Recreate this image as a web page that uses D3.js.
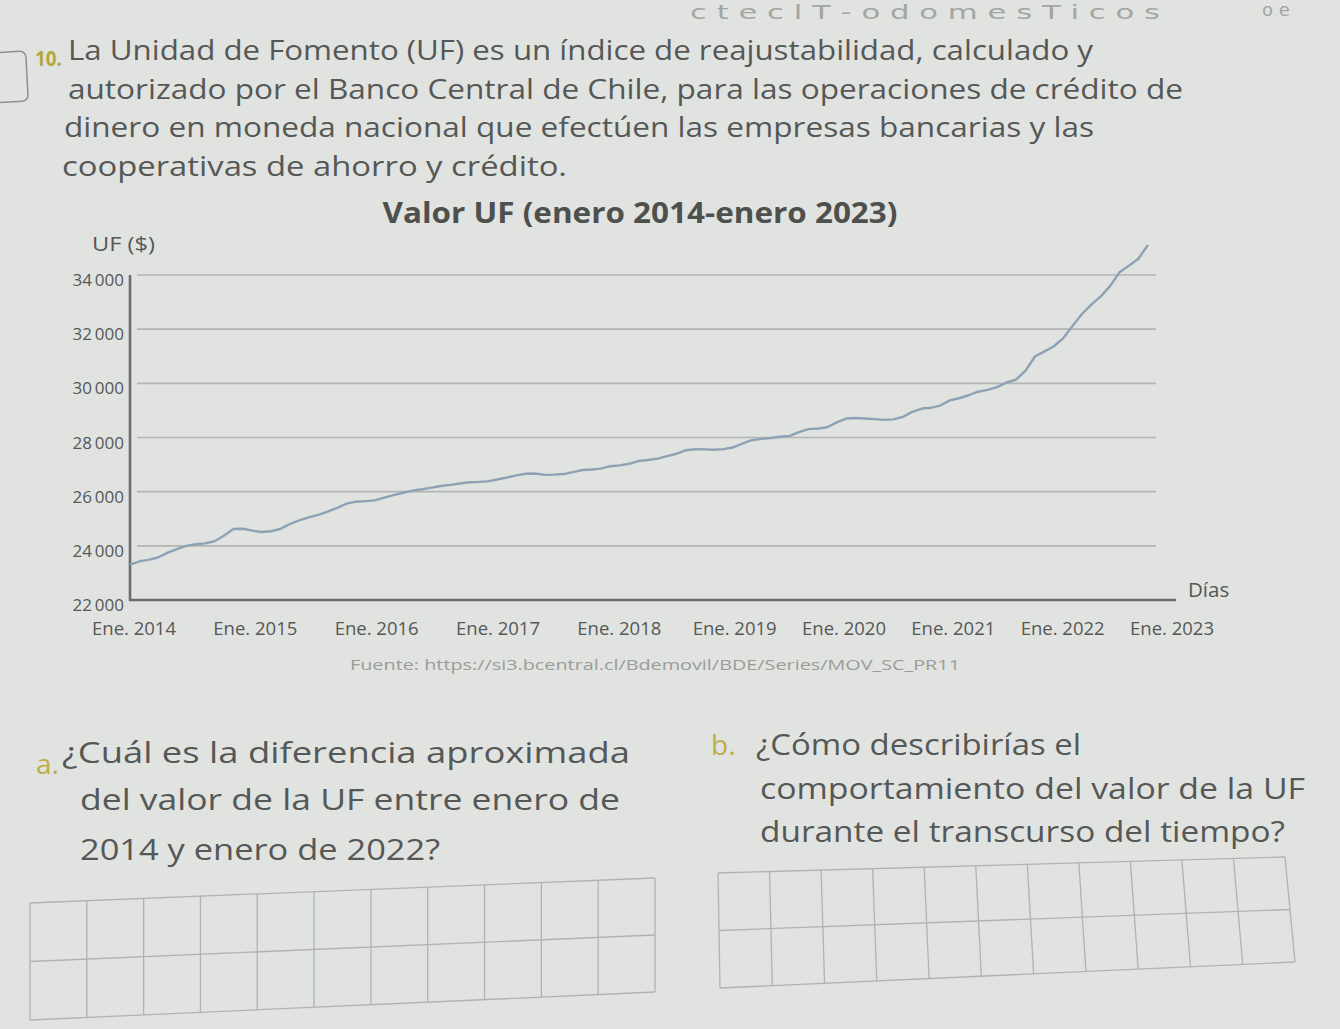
<!DOCTYPE html>
<html>
<head>
<meta charset="utf-8">
<script src="https://cdn.jsdelivr.net/npm/d3@7"></script>
<style>
  html, body { margin: 0; padding: 0; background: #e1e3e0; }
  svg { display: block; }
</style>
</head>
<body>
<svg id="page" width="1340" height="1029"></svg>
<script>
// ---------------- DATA ----------------
const years = [2014, 2015, 2016, 2017, 2018, 2019, 2020, 2021, 2022, 2023];
// Valor UF mensual (aprox.), enero a diciembre de cada año
const uf2014 = [23310, 23430, 23480, 23570, 23740, 23880, 24000, 24060, 24090, 24170, 24380, 24620];
const uf2015 = [24630, 24560, 24510, 24540, 24620, 24800, 24940, 25050, 25140, 25260, 25400, 25560];
const uf2016 = [25630, 25650, 25680, 25780, 25870, 25960, 26040, 26090, 26150, 26210, 26250, 26300];
const uf2017 = [26350, 26360, 26380, 26450, 26520, 26600, 26660, 26670, 26620, 26630, 26650, 26720];
const uf2018 = [26800, 26820, 26850, 26940, 26970, 27030, 27130, 27170, 27220, 27310, 27400, 27530];
const uf2019 = [27570, 27560, 27550, 27570, 27630, 27770, 27900, 27950, 27980, 28030, 28060, 28200];
const uf2020 = [28310, 28330, 28380, 28560, 28700, 28720, 28700, 28680, 28650, 28670, 28760, 28950];
const uf2021 = [29070, 29100, 29180, 29370, 29450, 29560, 29690, 29760, 29860, 30030, 30140, 30460];
const uf2022 = [30990, 31180, 31350, 31650, 32100, 32550, 32900, 33200, 33600, 34100, 34350, 34600];
const uf2023 = [35110];

const xTickLabels = ["Ene. 2014", "Ene. 2015", "Ene. 2016", "Ene. 2017", "Ene. 2018",
                     "Ene. 2019", "Ene. 2020", "Ene. 2021", "Ene. 2022", "Ene. 2023"];
const yTickValues = [22000, 24000, 26000, 28000, 30000, 32000, 34000];

const titleText = "Valor UF (enero 2014-enero 2023)";
const yAxisTitle = "UF ($)";
const xAxisTitle = "Días";
const sourceText = "Fuente: https://si3.bcentral.cl/Bdemovil/BDE/Series/MOV_SC_PR11";

const introLines = [
  "La Unidad de Fomento (UF) es un índice de reajustabilidad, calculado y",
  "autorizado por el Banco Central de Chile, para las operaciones de crédito de",
  "dinero en moneda nacional que efectúen las empresas bancarias y las",
  "cooperativas de ahorro y crédito."
];
const questionA = ["¿Cuál es la diferencia aproximada", "del valor de la UF entre enero de", "2014 y enero de 2022?"];
const questionB = ["¿Cómo describirías el", "comportamiento del valor de la UF", "durante el transcurso del tiempo?"];

// --------------- BUILD ----------------
const ufSeries = [uf2014, uf2015, uf2016, uf2017, uf2018, uf2019, uf2020, uf2021, uf2022, uf2023];
const data = ufSeries.flatMap((arr, yi) => arr.map((v, m) => ({ date: new Date(years[yi], m, 1), value: v })));

const svg = d3.select("#page");
const FONT = "'Open Sans', Lato, 'DejaVu Sans', sans-serif";
const TXT = "#555856";

svg.append("rect").attr("width", 1340).attr("height", 1029).attr("fill", "#e1e3e0");

// handwritten pencil note (faint)
svg.append("text").attr("x", 690).attr("y", 19)
  .attr("font-family", "'DejaVu Sans', sans-serif").attr("font-size", 19)
  .attr("fill", "#a3a6a3").attr("textLength", 470).attr("lengthAdjust", "spacingAndGlyphs")
  .text("c t e c l T - o d o m e s T i c o s");
svg.append("text").attr("x", 1262).attr("y", 16)
  .attr("font-family", "'DejaVu Sans', sans-serif").attr("font-size", 18)
  .attr("fill", "#a3a6a3").text("o e");

// ---- Intro text ----
const intro = svg.append("g");
intro.append("rect").attr("x", -12).attr("y", 52).attr("width", 39).attr("height", 50).attr("rx", 6)
  .attr("fill", "none").attr("stroke", "#8d908d").attr("stroke-width", 1.5)
  .attr("transform", "rotate(-3, 8, 77)");
intro.append("text").attr("x", 35).attr("y", 66)
  .attr("font-family", FONT).attr("font-weight", 700).attr("font-size", 21)
  .attr("fill", "#b3a83e").attr("textLength", 27).attr("lengthAdjust", "spacingAndGlyphs").text("10.");
const introX = [68, 68, 64, 62];
const introY = [60, 99, 137, 176];
const introW = [1025, 1115, 1030, 505];
introLines.forEach((t, i) => {
  intro.append("text").attr("x", introX[i]).attr("y", introY[i])
    .attr("font-family", FONT).attr("font-size", 26.5).attr("fill", TXT)
    .attr("textLength", introW[i]).attr("lengthAdjust", "spacingAndGlyphs").text(t);
});

// ---- Chart ----
const x = d3.scaleTime().domain([new Date(2014, 0, 1), new Date(2023, 0, 1)]).range([130, 1148]);
const y = d3.scaleLinear().domain([22000, 34000]).range([600, 275]);
// tick label positions (as printed in the book)
const xLabelPos = d3.scaleLinear().domain([0, 4.5, 9]).range([134, 680, 1172]);
const locale = d3.formatLocale({ decimal: ",", thousands: "\u2009", grouping: [3], currency: ["$", ""] });
const fmt = locale.format(",");

const chart = svg.append("g");

// title
chart.append("text").attr("x", 640).attr("y", 223).attr("text-anchor", "middle")
  .attr("font-family", FONT).attr("font-weight", 700).attr("font-size", 28).attr("fill", "#4e504e")
  .attr("textLength", 515).attr("lengthAdjust", "spacingAndGlyphs")
  .text(titleText);
chart.append("text").attr("x", 92).attr("y", 251)
  .attr("font-family", FONT).attr("font-size", 20).attr("fill", TXT)
  .attr("textLength", 63).attr("lengthAdjust", "spacingAndGlyphs").text(yAxisTitle);

// gridlines
chart.append("g").selectAll("line").data(yTickValues.filter(v => v > 22000)).join("line")
  .attr("x1", 137).attr("x2", 1156)
  .attr("y1", d => y(d)).attr("y2", d => y(d))
  .attr("stroke", "#b3b5b2").attr("stroke-width", 1.6);

// y tick labels
chart.append("g").selectAll("text").data(yTickValues).join("text")
  .attr("x", 124).attr("y", d => y(d) + 11).attr("text-anchor", "end")
  .attr("font-family", FONT).attr("font-size", 17).attr("fill", TXT)
  .text(d => fmt(d));

// axes lines
chart.append("line").attr("x1", 130).attr("x2", 130).attr("y1", y(34000)).attr("y2", y(22000) + 1)
  .attr("stroke", "#6b6d6b").attr("stroke-width", 2.6);
chart.append("line").attr("x1", 129).attr("x2", 1176).attr("y1", y(22000)).attr("y2", y(22000))
  .attr("stroke", "#6b6d6b").attr("stroke-width", 2.6);

// x tick labels
chart.append("g").selectAll("text").data(xTickLabels).join("text")
  .attr("x", (d, i) => xLabelPos(i)).attr("y", 635).attr("text-anchor", "middle")
  .attr("font-family", FONT).attr("font-size", 18.5).attr("fill", TXT)
  .text(d => d);
chart.append("text").attr("x", 1188).attr("y", 597)
  .attr("font-family", FONT).attr("font-size", 20.5).attr("fill", TXT).text(xAxisTitle);

// data line
chart.append("path").datum(data)
  .attr("fill", "none").attr("stroke", "#8ea2b5").attr("stroke-width", 2.4)
  .attr("stroke-linejoin", "round")
  .attr("d", d3.line().x(d => x(d.date)).y(d => y(d.value)));

// source
chart.append("text").attr("x", 655).attr("y", 670).attr("text-anchor", "middle")
  .attr("font-family", FONT).attr("font-size", 14.5).attr("fill", "#9a9c99")
  .attr("textLength", 610).attr("lengthAdjust", "spacingAndGlyphs")
  .text(sourceText);

// ---- Questions ----
const q = svg.append("g");
q.append("text").attr("x", 36).attr("y", 774).attr("font-family", FONT).attr("font-size", 28)
  .attr("fill", "#bcae45").text("a.");
const qaX = [62, 80, 80], qaY = [763, 810, 860], qaW = [568, 540, 360];
questionA.forEach((t, i) => q.append("text").attr("x", qaX[i]).attr("y", qaY[i])
  .attr("font-family", FONT).attr("font-size", 29).attr("fill", TXT)
  .attr("textLength", qaW[i]).attr("lengthAdjust", "spacingAndGlyphs").text(t));
q.append("text").attr("x", 711).attr("y", 755).attr("font-family", FONT).attr("font-size", 28)
  .attr("fill", "#bcae45").text("b.");
const qbX = [756, 760, 760], qbY = [755, 799, 842], qbW = [325, 545, 525];
questionB.forEach((t, i) => q.append("text").attr("x", qbX[i]).attr("y", qbY[i])
  .attr("font-family", FONT).attr("font-size", 29).attr("fill", TXT)
  .attr("textLength", qbW[i]).attr("lengthAdjust", "spacingAndGlyphs").text(t));

// answer grids (bilinear corners)
function drawGrid(tl, tr, bl, br, cols, rows) {
  const g = svg.append("g").attr("stroke", "#b0b3b0").attr("stroke-width", 1.3).attr("fill", "none");
  const P = (u, v) => [
    (1 - v) * ((1 - u) * tl[0] + u * tr[0]) + v * ((1 - u) * bl[0] + u * br[0]),
    (1 - v) * ((1 - u) * tl[1] + u * tr[1]) + v * ((1 - u) * bl[1] + u * br[1])
  ];
  for (let c = 0; c <= cols; c++) {
    const a = P(c / cols, 0), b = P(c / cols, 1);
    g.append("line").attr("x1", a[0]).attr("y1", a[1]).attr("x2", b[0]).attr("y2", b[1]);
  }
  for (let r = 0; r <= rows; r++) {
    const a = P(0, r / rows), b = P(1, r / rows);
    g.append("line").attr("x1", a[0]).attr("y1", a[1]).attr("x2", b[0]).attr("y2", b[1]);
  }
}
drawGrid([30, 903], [655, 878], [30, 1020], [655, 992], 11, 2);
drawGrid([718, 873], [1285, 857], [720, 988], [1295, 962], 11, 2);
</script>
</body>
</html>
